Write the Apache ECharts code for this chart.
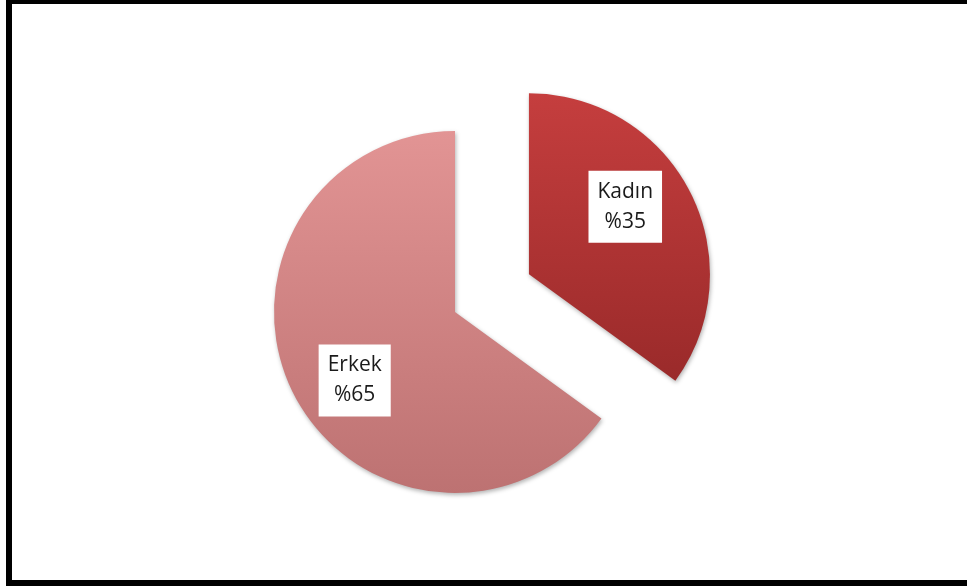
<!DOCTYPE html>
<html>
<head>
<meta charset="utf-8">
<script src="https://cdn.jsdelivr.net/npm/echarts@6/dist/echarts.min.js"></script>
<style>
html,body{margin:0;padding:0;background:#fff;overflow:hidden;}
#frame{position:absolute;left:6px;top:0;width:990px;height:576px;border-left:6px solid #000;border-top:4px solid #000;border-bottom:6px solid #000;}
#chart{position:absolute;left:0;top:0;width:967px;height:588px;}
</style>
</head>
<body>
<div id="frame"></div>
<div id="chart"></div>
<script>
const categories = ['Kadın', 'Erkek'];
const values = [35, 65];
const labelTexts = ['Kadın\n%35', 'Erkek\n%65'];

const colors = [
  { type: 'linear', x: 0, y: 0, x2: 0, y2: 1, colorStops: [{ offset: 0, color: '#c53e3e' }, { offset: 1, color: '#9a2a2a' }] },
  { type: 'linear', x: 0, y: 0, x2: 0, y2: 1, colorStops: [{ offset: 0, color: '#e29494' }, { offset: 1, color: '#bd7272' }] }
];
const labelShift = [[13, -25], [-17, 26]];

const chart = echarts.init(document.getElementById('chart'));
chart.setOption({
  animation: false,
  backgroundColor: 'transparent',
  series: [{
    type: 'pie',
    center: [455, 312],
    radius: [0, 181],
    startAngle: 90,
    clockwise: true,
    selectedMode: 'single',
    selectedOffset: 83,
    emphasis: { disabled: true },
    data: categories.map((c, i) => ({
      name: c,
      value: values[i],
      selected: i === 0,
      itemStyle: {
        color: colors[i],
        shadowBlur: 4,
        shadowColor: 'rgba(0,0,0,0.3)',
        shadowOffsetX: 1,
        shadowOffsetY: 2
      },
      label: { formatter: labelTexts[i] }
    })),
    label: {
      show: true,
      position: 'inside',
      backgroundColor: '#fff',
      color: '#1a1a1a',
      fontFamily: 'Open Sans',
      fontSize: 21,
      lineHeight: 30,
      padding: [6, 9],
      align: 'center'
    },
    labelLine: { show: false },
    labelLayout: function (p) {
      return { dx: labelShift[p.dataIndex][0], dy: labelShift[p.dataIndex][1] };
    }
  }]
});
</script>
</body>
</html>
